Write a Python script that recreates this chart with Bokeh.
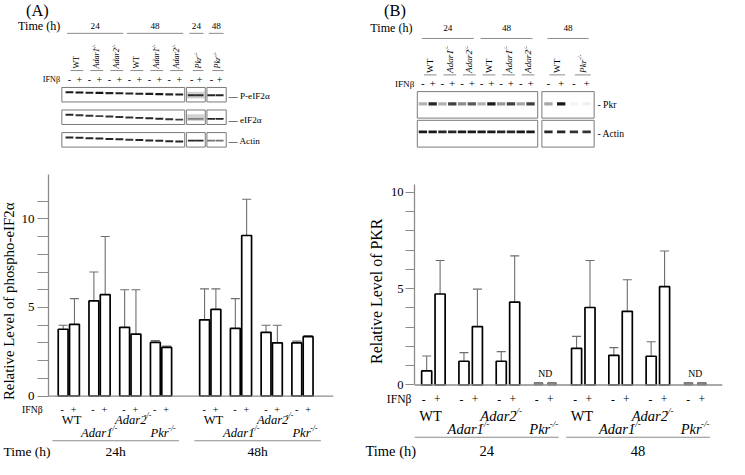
import numpy as np
from bokeh.plotting import figure
from bokeh.layouts import row, column
from bokeh.models import ColumnDataSource, Whisker, Span, FixedTicker, Range1d, TeeHead
from bokeh.core.properties import value
from bokeh.embed import file_html
from bokeh.resources import INLINE

# ---------------- DATA ----------------
GENOTYPES = ["WT", "Adar1", "Adar2", "Pkr"]
KNOCKOUT = [False, True, True, True]
IFN_SIGNS = ["-", "+"]
TIME_LABELS_A = ["24h", "48h"]
TIME_LABELS_B = ["24", "48"]
YTICKS_A = [0, 1, 2, 3, 4, 5, 6, 7, 8, 9, 10, 11]
YTICKS_B = [0, 1, 2, 3, 4, 5, 6, 7, 8, 9, 10]
YTICK_LABELS = {0: "0", 5: "5", 10: "10"}
YLABEL_A = "Relative Level of phospho-eIF2α"
YLABEL_B = "Relative Level of PKR"

# Panel A: relative level of phospho-eIF2α (order: WT-,WT+,Adar1-,Adar1+,Adar2-,Adar2+,Pkr-,Pkr+)
PEIF_24_MEAN = [3.77, 4.05, 5.37, 5.72, 3.88, 3.50, 3.03, 2.75]
PEIF_24_LOW = [3.00, 2.50, 2.40, 3.40, 2.57, 2.55, 2.92, 2.68]
PEIF_24_HIGH = [4.00, 5.50, 7.00, 9.00, 6.00, 6.00, 3.13, 2.82]
PEIF_48_MEAN = [4.30, 4.89, 3.82, 9.06, 3.60, 3.00, 3.00, 3.35]
PEIF_48_LOW = [2.57, 3.50, 3.00, 8.00, 3.00, 2.50, 2.90, 3.28]
PEIF_48_HIGH = [6.05, 6.05, 5.50, 11.10, 4.00, 4.00, 3.10, 3.42]

# Panel B: relative level of PKR (Pkr-/- not detected -> None)
PKR_24_MEAN = [0.73, 4.72, 1.23, 3.03, 1.23, 4.30, None, None]
PKR_24_LOW = [0.56, 2.73, 0.73, 1.98, 0.73, 2.24, None, None]
PKR_24_HIGH = [1.50, 6.46, 1.68, 4.97, 1.73, 6.70, None, None]
PKR_48_MEAN = [1.90, 4.02, 1.54, 3.82, 1.49, 5.10, None, None]
PKR_48_LOW = [1.74, 2.48, 0.88, 2.48, 0.80, 3.01, None, None]
PKR_48_HIGH = [2.52, 6.46, 1.94, 5.46, 2.24, 6.95, None, None]
ND_TEXT = "ND"

# Western blots (band darkness 0..1; 12 lanes in main membrane + 2 + 2 lanes)
BLOT_A_TIMES = ["24", "48", "24", "48"]
BLOT_A_LANE_LABELS = ["WT", "Adar1", "Adar2", "WT", "Adar1", "Adar2", "Pkr", "Pkr"]
BLOT_A_ROWS = ["P-eIF2α", "eIF2α", "Actin"]
BAND_PEIF_A = [0.90, 0.92, 0.88, 0.92, 0.85, 0.88, 0.85, 0.88, 0.88, 0.90, 0.85, 0.88, 0.80, 0.80, 0.85, 0.85]
BAND_EIF_A = [0.85, 0.80, 0.80, 0.75, 0.80, 0.80, 0.80, 0.85, 0.85, 0.85, 0.80, 0.75, 0.40, 0.40, 0.85, 0.85]
BAND_ACTIN_A = [0.85, 0.85, 0.85, 0.85, 0.85, 0.85, 0.80, 0.85, 0.85, 0.85, 0.85, 0.85, 0.85, 0.85, 0.55, 0.55]

BLOT_B_TIMES = ["24", "48", "48"]
BLOT_B_LANE_LABELS = ["WT", "Adar1", "Adar2", "WT", "Adar1", "Adar2", "WT", "Pkr"]
BLOT_B_ROWS = ["Pkr", "Actin"]
BAND_PKR_B = [0.30, 0.85, 0.30, 0.75, 0.45, 0.65, 0.30, 0.90, 0.40, 0.75, 0.35, 0.75, 0.35, 0.90, 0.04, 0.06]
BAND_ACTIN_B = [0.90, 0.90, 0.85, 0.85, 0.90, 0.90, 0.90, 0.90, 0.85, 0.85, 0.90, 0.90, 0.85, 0.85, 0.80, 0.80]

# ---------------- LAYOUT / STYLE ----------------
FONT = value("Liberation Serif")
AXC = "#8c8c8c"
ERRC = "#6e6e6e"
BOXC = "#7a7a7a"
S_X = 729 / 745
S_Y = 459 / 475

A_W = round(370 * S_X)
B_W = 729 - A_W
H_BLOT = round(178 * S_Y)
A_BAR_BOT = 416.6
B_BAR_BOT = 405.8
A_BAR_H = round(A_BAR_BOT * S_Y) - H_BLOT
A_LAB_H = 459 - H_BLOT - A_BAR_H
B_BAR_H = round(B_BAR_BOT * S_Y) - H_BLOT
B_LAB_H = 459 - H_BLOT - B_BAR_H


def fs(v):
    return f"{v * S_Y:.1f}px"


def base_fig(w, h, xr, yr, yaxis=None, **kw):
    p = figure(width=w, height=h, x_range=xr, y_range=yr, toolbar_location=None,
               output_backend="svg", x_axis_location=None, y_axis_location=yaxis, **kw)
    p.grid.visible = False
    p.outline_line_color = None
    p.background_fill_color = "white"
    p.border_fill_color = "white"
    if hasattr(p, "frame_align"):
        p.frame_align = False
    return p


def T(p, x, y, text, size, align="center", baseline="middle", style="normal", angle=0.0, color="black"):
    p.text(x=list(x), y=list(y), text=list(text), text_font=FONT, text_font_size=fs(size),
           text_align=align, text_baseline=baseline, text_font_style=style, angle=angle,
           text_color=color)


def seg(p, x0, y0, x1, y1, color=BOXC, width=1.0):
    p.segment(x0=list(x0), y0=list(y0), x1=list(x1), y1=list(y1), line_color=color, line_width=width)


def blot(p, cfg):
    lanes = cfg["lanes"]
    groups = cfg["groups"]  # list of (first_lane, last_lane, time label)
    T(p, [cfg["panel_x"]], [cfg["panel_y"]], [cfg["panel"]], 17, align="left")
    T(p, [cfg["time_x"]], [cfg["time_y"]], ["Time (h)"], 12.5, align="left")
    lx0 = [lanes[a] + cfg["tl_pad"][0] for a, b, _ in groups]
    lx1 = [lanes[b] + cfg["tl_pad"][1] for a, b, _ in groups]
    seg(p, lx0, [cfg["tl_y"]] * len(groups), lx1, [cfg["tl_y"]] * len(groups), color=AXC)
    T(p, [(a + b) / 2 for a, b in zip(lx0, lx1)], [cfg["time_y"]] * len(groups),
      [g[2] for g in groups], 9.5)
    # rotated lane labels
    pairs = [(lanes[2 * i] + lanes[2 * i + 1]) / 2 for i in range(len(lanes) // 2)]
    ybot = cfg["ul_y"] - 2
    for i, lab in enumerate(cfg["labels"]):
        xc = pairs[i] + 2.5
        if lab == "WT":
            T(p, [xc], [ybot], [lab], cfg["rot_size"], align="left", angle=np.pi / 2)
        else:
            T(p, [xc], [ybot], [lab], cfg["rot_size"], align="left", angle=np.pi / 2, style="italic")
            est = 0.47 * cfg["rot_size"] * len(lab)
            T(p, [xc - 2.5], [ybot - est], ["-/-"], cfg["rot_size"] * 0.62, align="left",
              angle=np.pi / 2, style="italic")
    seg(p, [lanes[2 * i] + 1 for i in range(len(pairs))], [cfg["ul_y"]] * len(pairs),
        [lanes[2 * i + 1] + 4 for i in range(len(pairs))], [cfg["ul_y"]] * len(pairs), color=AXC)
    # IFN row
    T(p, [cfg["ifn_x"]], [cfg["ifn_y"]], ["IFNβ"], cfg["ifn_size"], align="right")
    T(p, lanes, [cfg["ifn_y"]] * len(lanes), [IFN_SIGNS[i % 2] for i in range(len(lanes))],
      cfg["sign_size"])
    # membranes
    for r, (name, bands) in enumerate(zip(cfg["rows"], cfg["bands"])):
        top, bot = cfg["row_box"][r]
        for (bx0, bx1, l0, l1) in cfg["boxes"]:
            if cfg.get("halo") and (r, l0) in cfg["halo"]:
                p.quad(left=[lanes[l0] - 5], right=[lanes[l1] + 5], top=[(top + bot) / 2 - 3.0],
                       bottom=[(top + bot) / 2 + 4.0], fill_color="#d2d2d2", line_color=None)
            p.quad(left=[bx0], right=[bx1], top=[top], bottom=[bot], fill_color=None,
                   line_color=BOXC, line_width=1)
            idx = list(range(l0, l1 + 1))
            ys = np.linspace(cfg["band_y"][r][0], cfg["band_y"][r][1], len(idx)) if l1 - l0 > 3 \
                else [cfg["band_y"][r][2]] * len(idx)
            p.rect(x=[lanes[i] for i in idx], y=list(ys), width=cfg["band_w"], height=cfg["band_h"][r],
                   fill_color="black", fill_alpha=[bands[i] for i in idx], line_color=None)
        T(p, [cfg["lab_x"]], [(top + bot) / 2 + cfg["lab_dy"][r]], [cfg["dash"] + name], cfg["lab_size"],
          align="left")


# ---- Blot A ----
lanes_A = [70.5 + 10.2 * i for i in range(12)] + [195.5, 203.5, 215.5, 224.0]
blotA = base_fig(A_W, H_BLOT, Range1d(0, 370), Range1d(178, 0), min_border=0)
blot(blotA, dict(
    lanes=lanes_A, panel="(A)", panel_x=26, panel_y=10, time_x=18, time_y=26,
    groups=[(0, 5, BLOT_A_TIMES[0]), (6, 11, BLOT_A_TIMES[1]), (12, 13, BLOT_A_TIMES[2]), (14, 15, BLOT_A_TIMES[3])],
    tl_pad=(-2.5, 4), tl_y=34, labels=BLOT_A_LANE_LABELS, rot_size=8.5, ul_y=72.5,
    ifn_x=61, ifn_y=82, ifn_size=8.5, sign_size=10.5,
    rows=BLOT_A_ROWS, bands=[BAND_PEIF_A, BAND_EIF_A, BAND_ACTIN_A],
    row_box=[(90, 105), (113.3, 128.3), (136.7, 151.7)],
    boxes=[(62.7, 188.3, 0, 11), (190, 209.3, 12, 13), (211, 230.7, 14, 15)],
    band_y=[(95, 97.3, 98), (118.3, 123.3, 122.5), (141.7, 146, 145)],
    band_w=8, band_h=[2.2, 2.0, 2.0], halo={(0, 12), (1, 12)},
    lab_x=233, lab_dy=[1.5, 2.5, 1.5], dash="— ", lab_size=9.5))

# ---- Blot B ----
lanes_B = [61.7 + 10 * i for i in range(12)] + [190.0, 203.0, 216.0, 229.0]
blotB = base_fig(B_W, H_BLOT, Range1d(0, 375), Range1d(178, 0), min_border=0)
blot(blotB, dict(
    lanes=lanes_B, panel="(B)", panel_x=22, panel_y=10, time_x=8, time_y=28,
    groups=[(0, 5, BLOT_B_TIMES[0]), (6, 11, BLOT_B_TIMES[1]), (12, 15, BLOT_B_TIMES[2])],
    tl_pad=(-1, 2), tl_y=39.3, labels=BLOT_B_LANE_LABELS, rot_size=9.5, ul_y=77,
    ifn_x=53, ifn_y=86, ifn_size=9.5, sign_size=11.5,
    rows=BLOT_B_ROWS, bands=[BAND_PKR_B, BAND_ACTIN_B],
    row_box=[(94.3, 121.7), (124, 151.7)],
    boxes=[(56, 179, 0, 11), (183.3, 236.7, 12, 15)],
    band_y=[(107, 107, 107), (136, 136, 136)],
    band_w=8.5, band_h=[3.5, 3.0], halo=None,
    lab_x=240, lab_dy=[0, 0], dash="- ", lab_size=10))


# ---------------- BAR CHARTS ----------------
def bar_panel(W, BAR_H, LAB_H, bar_bot, bl, ylab_w, ylab_cfg, br, bt, x0, x1, y0, y1, ytop, ticks,
              tick_cfg, block_off, pair_off, bar_w, means, lows, highs, cap, lab_cfg):
    # y-axis title in its own narrow strip (lets it be placed like the original)
    ylab_ref_w = ylab_w / S_X
    yl = base_fig(ylab_w, BAR_H, Range1d(0, ylab_ref_w), Range1d(bar_bot, 178), min_border=0)
    T(yl, [ylab_cfg["x"]], [ylab_cfg["y"]], [ylab_cfg["text"]], ylab_cfg["size"], angle=np.pi / 2)

    p = base_fig(W - ylab_w, BAR_H, Range1d(x0, x1), Range1d(y0, y1), yaxis="left",
                 min_border_left=bl - ylab_w, min_border_right=br, min_border_top=bt, min_border_bottom=0)
    ax = p.yaxis[0]
    ax.bounds = (0, ytop)
    ax.ticker = FixedTicker(ticks=ticks)
    ax.major_label_overrides = {t: YTICK_LABELS.get(t, "") for t in ticks}
    ax.minor_tick_line_color = None
    ax.major_tick_out = tick_cfg["out"]
    ax.major_tick_in = 0
    ax.axis_line_color = AXC
    ax.axis_line_width = 1.3
    ax.major_tick_line_color = AXC
    ax.major_tick_line_width = 1.2
    ax.major_label_text_font = "Liberation Serif"
    ax.major_label_text_font_size = fs(tick_cfg["size"])
    ax.major_label_text_color = "black"
    ax.major_label_standoff = tick_cfg["standoff"]
    p.add_layout(Span(location=0, dimension="width", line_color=AXC, line_width=1.3))

    xs, tops, lo, hi, ndx = [], [], [], [], []
    centers = []
    for t in range(2):
        for g in range(4):
            c = block_off[t] + g
            centers.append(c)
            for s in range(2):
                i = 2 * g + s
                x = c + (pair_off if s else -pair_off)
                m = means[t][i]
                if m is None:
                    ndx.append(x)
                    continue
                xs.append(x)
                tops.append(m)
                lo.append(lows[t][i])
                hi.append(highs[t][i])
    p.vbar(x=xs, top=tops, bottom=0, width=bar_w, fill_color="white", line_color="black",
           line_width=1.7)
    src = ColumnDataSource(dict(x=xs, lo=lo, hi=hi))
    p.add_layout(Whisker(base="x", lower="lo", upper="hi", source=src, line_color=ERRC, line_width=1.1,
                         upper_head=TeeHead(size=cap, line_color=ERRC, line_width=1.1),
                         lower_head=TeeHead(size=cap, line_color=ERRC, line_width=1.1)))
    if ndx:
        p.vbar(x=ndx, top=0.12, bottom=0, width=bar_w * 0.85, fill_color="#8a8a8a",
               line_color="#666666", line_width=1)
        nd_centers = [(ndx[2 * k] + ndx[2 * k + 1]) / 2 for k in range(len(ndx) // 2)]
        p.text(x=nd_centers, y=[0.62] * len(nd_centers), text=[ND_TEXT] * len(nd_centers),
               text_font=FONT, text_font_size=fs(10), text_align="center", text_baseline="middle")

    # ---- label strip below the axis ----
    fw = W - bl - br
    k = (x1 - x0) / fw
    lx0 = x0 - bl * k
    lx1 = x1 + br * k
    ytop_ref, ybot_ref = lab_cfg["y_range"]
    q = base_fig(W, LAB_H, Range1d(lx0, lx1), Range1d(ybot_ref, ytop_ref), min_border=0)

    def d(px_ref):
        return lx0 + px_ref * S_X * k

    c = lab_cfg
    allx = [cc + (pair_off if s else -pair_off) for cc in centers for s in range(2)]
    T(q, allx, [c["sign_y"]] * len(allx), [IFN_SIGNS[i % 2] for i in range(len(allx))], c["sign_size"])
    T(q, [d(c["ifn_x"])], [c["ifn_y"]], ["IFNβ"], c["ifn_size"], align="right")
    for t in range(2):
        for g in range(4):
            cc = centers[4 * t + g]
            yy = c["row_y"][g % 2]
            name = GENOTYPES[g]
            if not KNOCKOUT[g]:
                T(q, [cc + c["dx"][g]], [yy], [name], c["name_size"])
            else:
                est = 0.44 * c["name_size"] * len(name) * S_X * k
                xc = cc + c["dx"][g]
                T(q, [xc - est / 2], [yy], [name], c["name_size"], align="left", style="italic")
                T(q, [xc + est / 2 + 1.0 * k], [yy - c["sup_dy"]], ["-/-"], c["name_size"] * 0.62,
                  align="left", style="italic")
    l0 = [centers[4 * t] + c["line_pad"][0] for t in range(2)]
    l1 = [centers[4 * t + 3] + c["line_pad"][1] for t in range(2)]
    seg(q, l0, [c["line_y"]] * 2, l1, [c["line_y"]] * 2, color=AXC, width=1.1)
    T(q, [d(3)], [c["time_y"]], ["Time (h)"], c["time_size"], align="left")
    T(q, [(a + b) / 2 for a, b in zip(l0, l1)], [c["time_y"]] * 2, c["times"], c["time_size"])
    return row(yl, p), q


# Panel A bars (zero at ref y=409, 18.2 px per unit)
A_U = 31.5
A_S0 = 68.8
barA, labA = bar_panel(
    A_W, A_BAR_H, A_LAB_H, A_BAR_BOT,
    bl=round(48 * S_X), ylab_w=18, ylab_cfg=dict(x=8.8, y=311, text=YLABEL_A, size=15.4),
    br=A_W - round(340 * S_X), bt=round(180 * S_Y) - H_BLOT,
    x0=(48 - A_S0) / A_U, x1=(340 - A_S0) / A_U, y0=-(A_BAR_BOT - 409) / 18.2, y1=12.5, ytop=12.5,
    ticks=YTICKS_A, tick_cfg=dict(out=11, standoff=3, size=13.5),
    block_off=[0.0, 4.6], pair_off=0.184, bar_w=0.32,
    means=[PEIF_24_MEAN, PEIF_48_MEAN], lows=[PEIF_24_LOW, PEIF_48_LOW], highs=[PEIF_24_HIGH, PEIF_48_HIGH],
    cap=9,
    lab_cfg=dict(y_range=(A_BAR_BOT, 475), sign_y=422.4, sign_size=10.5, ifn_x=43, ifn_y=422.4, ifn_size=10,
                 row_y=(434, 447.5), name_size=13, sup_dy=4.5, dx=[0.12, -0.12, -0.02, -0.05],
                 line_pad=(-0.5, 0.6), line_y=455.5, time_y=466.8, time_size=14, times=TIME_LABELS_A))

# Panel B bars (zero at ref y=398, 20 px per unit)
B_U = 38.5
B_S0 = 69.5
barB, labB = bar_panel(
    B_W, B_BAR_H, B_LAB_H, B_BAR_BOT,
    bl=round(420 * S_X) - A_W, ylab_w=25, ylab_cfg=dict(x=14.5, y=301, text=YLABEL_B, size=16.5),
    br=B_W - (round(738 * S_X) - A_W), bt=round(190 * S_Y) - H_BLOT,
    x0=(50 - B_S0) / B_U, x1=(368 - B_S0) / B_U, y0=-(B_BAR_BOT - 398) / 20.0, y1=10.4, ytop=10.4,
    ticks=YTICKS_B, tick_cfg=dict(out=9, standoff=2, size=13),
    block_off=[0.0, 4.02], pair_off=0.18, bar_w=0.27,
    means=[PKR_24_MEAN, PKR_48_MEAN], lows=[PKR_24_LOW, PKR_48_LOW], highs=[PKR_24_HIGH, PKR_48_HIGH],
    cap=9,
    lab_cfg=dict(y_range=(B_BAR_BOT, 475), sign_y=412.8, sign_size=12, ifn_x=50, ifn_y=412.8, ifn_size=12,
                 row_y=(430, 443), name_size=15, sup_dy=5, dx=[0.0, -0.12, -0.25, -0.12],
                 line_pad=(-0.42, 0.4), line_y=452, time_y=466.3, time_size=15, times=TIME_LABELS_B))

layout = row(column(blotA, barA, labA), column(blotB, barB, labB))
open("out.html", "w").write(file_html(layout, INLINE))
